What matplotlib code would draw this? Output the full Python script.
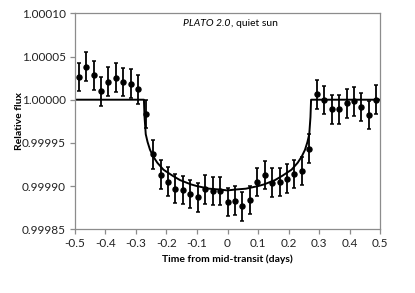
import matplotlib
matplotlib.use("Agg")
import matplotlib.pyplot as plt
from matplotlib.transforms import offset_copy

plt.rcParams['font.family'] = ['Lato', 'DejaVu Sans']

# observed points
time = [-0.4878, -0.4634, -0.4390, -0.4146, -0.3902, -0.3659, -0.3415, -0.3171,
        -0.2927, -0.2683, -0.2439, -0.2195, -0.1951, -0.1707, -0.1463, -0.1220,
        -0.0976, -0.0732, -0.0488, -0.0244, 0.0000, 0.0244, 0.0488, 0.0732,
        0.0976, 0.1220, 0.1463, 0.1707, 0.1951, 0.2195, 0.2439, 0.2683,
        0.2927, 0.3171, 0.3415, 0.3659, 0.3902, 0.4146, 0.4390, 0.4634, 0.4878]
flux = [1.0000263, 1.0000382, 1.0000282, 1.0000097, 1.0000208, 1.0000255, 1.0000205,
        1.0000185, 1.0000120, 0.9999834, 0.9999366, 0.9999132, 0.9999051, 0.9998972,
        0.9998955, 0.9998906, 0.9998870, 0.9998963, 0.9998941, 0.9998943, 0.9998814,
        0.9998833, 0.9998764, 0.9998839, 0.9999047, 0.9999128, 0.9999039, 0.9999050,
        0.9999086, 0.9999142, 0.9999175, 0.9999434, 1.0000063, 0.9999997, 0.9999889,
        0.9999889, 0.9999958, 0.9999981, 0.9999915, 0.9999822, 1.0000000]
flux_err = [1.65e-5] * len(time)

# model curve
model_t = [-0.5, -0.274, -0.272, -0.268, -0.262, -0.254, -0.243, -0.23, -0.21,
           -0.18, -0.156, -0.12, -0.1, -0.06, -0.025, 0.0, 0.025, 0.06, 0.1,
           0.12, 0.156, 0.18, 0.21, 0.23, 0.243, 0.254, 0.262, 0.268, 0.272,
           0.274, 0.5]
model_f = [1.0, 1.0, 0.99998, 0.99996, 0.999951, 0.999942, 0.999934, 0.999927,
           0.999919, 0.999912, 0.999907, 0.999902, 0.9999, 0.999897, 0.999896,
           0.999895, 0.999896, 0.999897, 0.9999, 0.999902, 0.999907, 0.999912,
           0.999919, 0.999927, 0.999934, 0.999942, 0.999951, 0.99996, 0.99998,
           1.0, 1.0]

xticks = [-0.5, -0.4, -0.3, -0.2, -0.1, 0.0, 0.1, 0.2, 0.3, 0.4, 0.5]
xticklabels = ['-0.5', '-0.4', '-0.3', '-0.2', '-0.1', '0', '0.1', '0.2', '0.3', '0.4', '0.5']
yticks = [0.99985, 0.99990, 0.99995, 1.00000, 1.00005, 1.00010]
yticklabels = ['0.99985', '0.99990', '0.99995', '1.00000', '1.00005', '1.00010']

fig = plt.figure(figsize=(4.15, 2.93), dpi=100)
ax = fig.add_axes([0.1807, 0.2174, 0.7350, 0.7372])

ax.plot(model_t, model_f, color='black', lw=1.4, zorder=2)
ax.errorbar(time, flux, yerr=flux_err, fmt='o', color='black', ms=3.6,
            elinewidth=1.3, capsize=1.6, capthick=1.1, zorder=3)

ax.set_xlim(-0.5, 0.5)
ax.set_ylim(0.99985, 1.00010)
ax.set_xticks(xticks)
ax.set_xticklabels(xticklabels)
ax.set_yticks(yticks)
ax.set_yticklabels(yticklabels)

for s in ax.spines.values():
    s.set_color('#8c8c8c')
    s.set_linewidth(0.9)
ax.tick_params(direction='out', length=3.5, width=0.9, color='#8c8c8c',
               labelsize=8.5, labelcolor='#222222', pad=3)

ax.set_xlabel('Time from mid-transit (days)', fontsize=7.5, fontweight='bold', va='center')
ax.set_ylabel('Relative flux', fontsize=7.5, fontweight='bold', va='center')
ax.xaxis.set_label_coords(0.5, -0.1375)
ax.yaxis.set_label_coords(-0.182, 0.5)

t1 = ax.text(0.355, 0.955, 'PLATO 2.0', style='italic', fontsize=7.5,
             transform=ax.transAxes, va='center', ha='left')
fig.canvas.draw()
bb = t1.get_window_extent()
w = bb.width * 72.0 / fig.dpi
ax.text(0.355, 0.955, ', quiet sun', fontsize=7.5, va='center', ha='left',
        transform=offset_copy(ax.transAxes, fig=fig, x=w, y=0, units='points'))

fig.savefig('out.png', dpi=100)
